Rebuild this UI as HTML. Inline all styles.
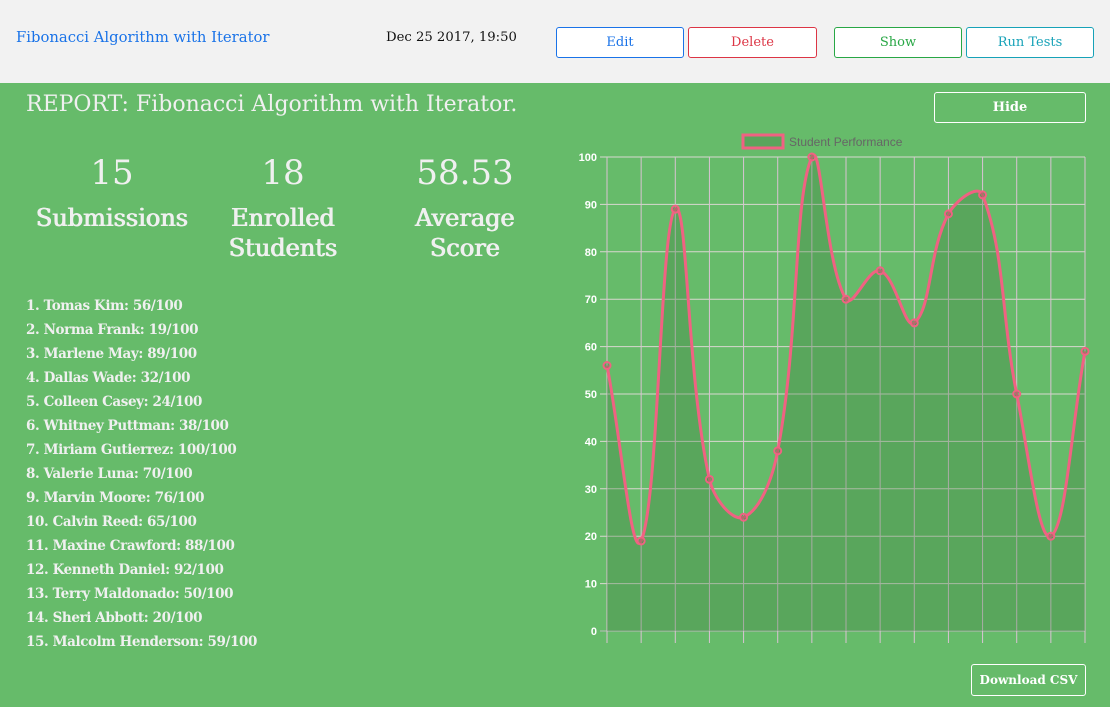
<!DOCTYPE html>
<html><head><meta charset="utf-8"><style>
*{box-sizing:border-box;margin:0;padding:0}
body{width:1110px;height:707px;overflow:hidden;font-family:"DejaVu Serif","Liberation Serif",serif;background:#66bb6a;position:relative}
#hdr{position:absolute;left:0;top:0;width:1110px;height:83px;background:#f2f2f2}
.abs{position:absolute}
.btn{position:absolute;top:26px;height:31px;border-radius:3px;background:#fff;font-size:13px;text-align:center;line-height:30px;border:1px solid}
#main{position:absolute;left:0;top:83px;width:1110px;height:624px}
.w{color:#f0f0f0}
.stat{position:absolute;text-align:center;color:#f0f0f0;font-size:24px;line-height:30px;text-shadow:0.5px 0 0 #f0f0f0,-0.5px 0 0 #f0f0f0}
.stat b{display:block;font-size:34px;line-height:44px;margin-bottom:8px;font-weight:normal;text-shadow:none}
#list{position:absolute;left:26px;top:211px;color:#f0f0f0;font-size:13.5px;line-height:24px;font-weight:bold;letter-spacing:-0.4px}
.wbtn{position:absolute;border:1px solid #fff;border-radius:3px;color:#fff;font-size:13px;font-weight:bold;text-align:center}
</style></head><body>
<div id="hdr">
<div class="abs" style="left:16px;top:29px;color:#1a73e8;font-size:14.8px">Fibonacci Algorithm with Iterator</div>
<div class="abs" style="left:386px;top:30px;color:#111;font-size:13.2px">Dec 25 2017, 19:50</div>
<div class="btn" style="left:556px;width:128px;border-color:#1a73e8;color:#1a73e8;top:27px">Edit</div>
<div class="btn" style="left:688px;width:129px;border-color:#dc3545;color:#dc3545;top:27px">Delete</div>
<div class="btn" style="left:834px;width:128px;border-color:#28a745;color:#28a745;top:27px">Show</div>
<div class="btn" style="left:966px;width:128px;border-color:#17a2b8;color:#17a2b8;top:27px">Run Tests</div>
</div>
<div id="main">
<div class="abs w" style="left:26px;top:9px;font-size:22px">REPORT: Fibonacci Algorithm with Iterator.</div>
<div class="wbtn" style="left:934px;top:9px;width:152px;height:31px;line-height:29px">Hide</div>
<div class="stat" style="left:22px;width:180px;top:68px"><b>15</b>Submissions</div>
<div class="stat" style="left:205px;width:156px;top:68px"><b>18</b>Enrolled<br>Students</div>
<div class="stat" style="left:390px;width:150px;top:68px"><b>58.53</b>Average<br>Score</div>
<div id="list"></div>
<div class="wbtn" style="left:971px;top:581px;width:115px;height:32px;line-height:30px;font-size:12px">Download CSV</div>
</div>
<svg id="chart" class="abs" style="left:0;top:0" width="1110" height="707"></svg>
<script>
const names=["Tomas Kim","Norma Frank","Marlene May","Dallas Wade","Colleen Casey","Whitney Puttman","Miriam Gutierrez","Valerie Luna","Marvin Moore","Calvin Reed","Maxine Crawford","Kenneth Daniel","Terry Maldonado","Sheri Abbott","Malcolm Henderson"];
const scores=[56,19,89,32,24,38,100,70,76,65,88,92,50,20,59];
const yTicks=[0,10,20,30,40,50,60,70,80,90,100];
const legendLabel="Student Performance";

const list=document.getElementById('list');
names.forEach((n,i)=>{const d=document.createElement('div');


d.textContent=(i+1)+'. '+n+': '+scores[i]+'/100';list.appendChild(d);});

const NS='http://www.w3.org/2000/svg',svg=document.getElementById('chart');
const X0=607,X1=1085,Y0=631,Y1=157;
const xs=i=>X0+(X1-X0)*i/(scores.length-1);
const ys=v=>Y0-(Y0-Y1)*v/100;
function mk(t,a,name){const e=document.createElementNS(NS,t);for(const k in a)e.setAttribute(k,a[k]);


svg.appendChild(e);return e;}
yTicks.forEach(t=>{mk('line',{x1:600,x2:X1,y1:ys(t),y2:ys(t),stroke:t===0?'#bbb':'#d8d8d0','stroke-width':1},'y-gridline');
const tx=mk('text',{x:597,y:ys(t)+4,'text-anchor':'end','font-size':11,fill:'#fff','font-family':'Liberation Sans, sans-serif','font-weight':'bold'},'y-tick-label');tx.textContent=t;});
scores.forEach((v,i)=>mk('line',{x1:xs(i),x2:xs(i),y1:Y1,y2:Y0+12,stroke:'#d9c3d3','stroke-width':1},'x-gridline'));
const pts=scores.map((v,i)=>[xs(i),ys(v)]);const T=0.4;const cps=[];
for(let i=0;i<pts.length;i++){const p=pts[Math.max(i-1,0)],c=pts[i],n=pts[Math.min(i+1,pts.length-1)];
const d01=Math.hypot(c[0]-p[0],c[1]-p[1]),d12=Math.hypot(n[0]-c[0],n[1]-c[1]);
let fa=d01/(d01+d12)||0,fb=d12/(d01+d12)||0;fa*=T;fb*=T;
cps.push({px:c[0]-fa*(n[0]-p[0]),py:c[1]-fa*(n[1]-p[1]),nx:c[0]+fb*(n[0]-p[0]),ny:c[1]+fb*(n[1]-p[1])});}
let d='M'+pts[0][0]+','+pts[0][1];
for(let i=1;i<pts.length;i++)d+=' C'+cps[i-1].nx+','+cps[i-1].ny+' '+cps[i].px+','+cps[i].py+' '+pts[i][0]+','+pts[i][1];
mk('path',{d:d+' L'+X1+','+Y0+' L'+X0+','+Y0+' Z',fill:'rgba(60,120,60,0.3)'},'area-fill');
mk('path',{d:d,fill:'none',stroke:'#f06282','stroke-width':3},'score-line');
pts.forEach(p=>mk('circle',{cx:p[0],cy:p[1],r:3.5,fill:'rgba(60,120,60,0.3)',stroke:'#f06282','stroke-width':2},'score-point'));
mk('rect',{x:743,y:135,width:40,height:13,fill:'#5aa55c',stroke:'#f06282','stroke-width':3},'legend-swatch');
const lt=mk('text',{x:789,y:146,'font-size':12,fill:'#666','font-family':'Liberation Sans, sans-serif'},'legend-label');lt.textContent=legendLabel;
</script>
</body></html>
